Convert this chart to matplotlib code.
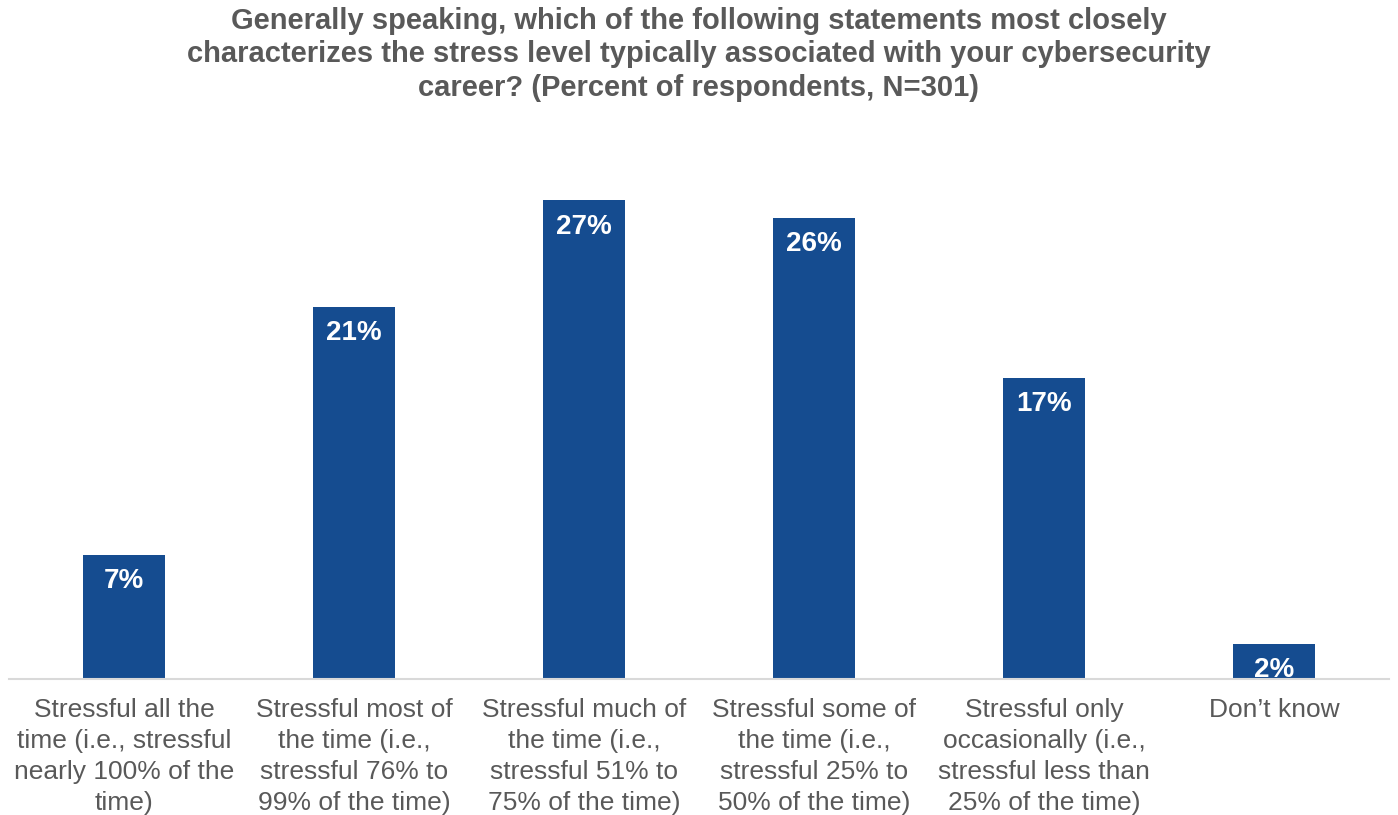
import matplotlib.pyplot as plt

plt.rcParams['font.family'] = ['Liberation Sans', 'DejaVu Sans']

categories = [
    "Stressful all the\ntime (i.e., stressful\nnearly 100% of the\ntime)",
    "Stressful most of\nthe time (i.e.,\nstressful 76% to\n99% of the time)",
    "Stressful much of\nthe time (i.e.,\nstressful 51% to\n75% of the time)",
    "Stressful some of\nthe time (i.e.,\nstressful 25% to\n50% of the time)",
    "Stressful only\noccasionally (i.e.,\nstressful less than\n25% of the time)",
    "Don\u2019t know",
]
percents = [7, 21, 27, 26, 17, 2]

title = ("Generally speaking, which of the following statements most closely\n"
         "characterizes the stress level typically associated with your cybersecurity\n"
         "career? (Percent of respondents, N=301)")

bar_color = '#154C90'
text_grey = '#595959'

fig = plt.figure(figsize=(13.98, 8.15), dpi=100)
# axes placed in figure pixels: x 9..1389, baseline at y=679
ax = fig.add_axes([9 / 1398, (815 - 679) / 815, 1380 / 1398, 532 / 815])

x = range(len(categories))
bars = ax.bar(x, percents, width=0.357, color=bar_color)
ax.set_xlim(-0.5, len(categories) - 0.5)
ax.set_ylim(0, 30)

for b, v in zip(bars, percents):
    ax.annotate(f"{v}%", (b.get_x() + b.get_width() / 2, v),
                xytext=(0, -19), textcoords='offset points',
                ha='center', va='center', color='white',
                fontsize=20, fontweight='bold')

ax.set_xticks(list(x))
ax.set_xticklabels(categories, fontsize=19, color=text_grey, linespacing=1.36, va='top')
ax.tick_params(axis='x', length=0, pad=14)
ax.set_yticks([])

for side in ['top', 'right', 'left']:
    ax.spines[side].set_visible(False)
ax.spines['bottom'].set_color('#D9D9D9')
ax.spines['bottom'].set_linewidth(1.5)

fig.text(0.5, 1 - 7 / 815, title, ha='center', va='top', fontsize=21,
         fontweight='bold', color=text_grey, linespacing=1.24)

fig.savefig('out.png', dpi=100)
